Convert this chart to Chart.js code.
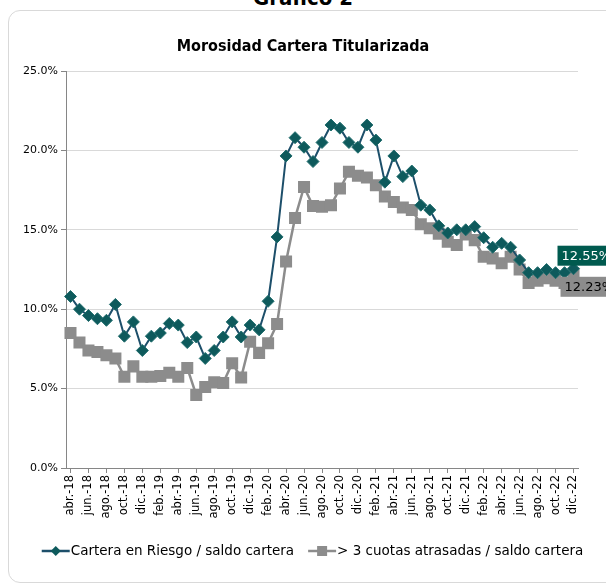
<!DOCTYPE html>
<html>
<head>
<meta charset="utf-8">
<script src="https://cdn.jsdelivr.net/npm/chart.js@4"></script>
<style>
body { margin: 0; background: #fff; overflow: hidden; }
#wrap { position: relative; width: 606px; height: 587px; overflow: hidden; }
#frame { position: absolute; left: 8px; top: 10px; width: 640px; height: 571px; border: 1px solid #d9d9d9; border-radius: 12px; }
#heading { position: absolute; left: 0; top: -15px; width: 606px; text-align: center; font: bold 22px "DejaVu Sans Condensed", "DejaVu Sans"; }
#title { position: absolute; left: 0; top: 36px; width: 606px; text-align: center; font: bold 16px "DejaVu Sans Condensed", "DejaVu Sans"; }
canvas { position: absolute; left: 0; top: 0; }
</style>
</head>
<body>
<div id="wrap">
  <div id="frame"></div>
  <div id="heading">Gráfico 2</div>
  <canvas id="chart" width="606" height="587"></canvas>
  <div id="title">Morosidad Cartera Titularizada</div>
</div>
<script>
const months = [
    "abr.-18", "may.-18", "jun.-18", "jul.-18", "ago.-18", "sep.-18", "oct.-18", "nov.-18", "dic.-18",
    "ene.-19", "feb.-19", "mar.-19", "abr.-19", "may.-19", "jun.-19", "jul.-19", "ago.-19", "sep.-19", "oct.-19", "nov.-19", "dic.-19",
    "ene.-20", "feb.-20", "mar.-20", "abr.-20", "may.-20", "jun.-20", "jul.-20", "ago.-20", "sep.-20", "oct.-20", "nov.-20", "dic.-20",
    "ene.-21", "feb.-21", "mar.-21", "abr.-21", "may.-21", "jun.-21", "jul.-21", "ago.-21", "sep.-21", "oct.-21", "nov.-21", "dic.-21",
    "ene.-22", "feb.-22", "mar.-22", "abr.-22", "may.-22", "jun.-22", "jul.-22", "ago.-22", "sep.-22", "oct.-22", "nov.-22", "dic.-22"
]

const carteraRiesgo = [
    10.8, 10.0, 9.6, 9.4, 9.3, 10.3, 8.3, 9.2, 7.4, 8.3,
    8.5, 9.1, 9.0, 7.9, 8.25, 6.9, 7.4, 8.25, 9.2, 8.25,
    9.0, 8.7, 10.5, 14.55, 19.65, 20.8, 20.2, 19.3, 20.5, 21.6,
    21.4, 20.5, 20.2, 21.6, 20.65, 18.0, 19.65, 18.35, 18.7, 16.55,
    16.25, 15.25, 14.8, 15.0, 15.0, 15.2, 14.5, 13.9, 14.15, 13.9,
    13.1, 12.3, 12.3, 12.5, 12.3, 12.3, 12.55
]

const cuotasAtrasadas = [
    8.5, 7.9, 7.4, 7.3, 7.1, 6.9, 5.75, 6.4, 5.75, 5.75,
    5.8, 6.0, 5.75, 6.3, 4.6, 5.1, 5.4, 5.35, 6.6, 5.7,
    7.95, 7.25, 7.85, 9.07, 13.0, 15.75, 17.7, 16.5, 16.45, 16.55,
    17.6, 18.65, 18.4, 18.3, 17.8, 17.1, 16.75, 16.4, 16.25, 15.35,
    15.1, 14.75, 14.25, 14.05, 14.7, 14.35, 13.3, 13.2, 12.9, 13.3,
    12.5, 11.65, 11.8, 11.95, 11.8, 11.65, 12.23
]

const seriesNames = ["Cartera en Riesgo / saldo cartera", "> 3 cuotas atrasadas / saldo cartera"]
const lastLabels = ["12.55%", "12.23%"]

const FONT = "DejaVu Sans"
const tealLine = "#1d4f6a"
const tealPoint = "#0e5a5c"
const grey = "#8c8c8c"

function drawMarker(g, style, x, y, r, color) {
    g.fillStyle = color
    g.beginPath()
    if (style === "diamond") {
        g.moveTo(x, y - r)
        g.lineTo(x + r, y)
        g.lineTo(x, y + r)
        g.lineTo(x - r, y)
    } else {
        g.rect(x - r, y - r, r * 2, r * 2)
    }
    g.closePath()
    g.fill()
}

// legend drawn by hand: line + marker, text right after it, centred under the frame
const lineLegend = {
    id: "lineLegend",
    afterDraw(chart) {
        const g = chart.ctx
        const items = [
            { text: seriesNames[0], line: tealLine, style: "diamond", color: tealPoint },
            { text: seriesNames[1], line: grey, style: "square", color: grey }
        ]
        const iconW = 28
        const gap = 15
        const y = 551
        g.save()
        g.font = "13.5px " + FONT
        g.textBaseline = "middle"
        const widths = items.map(it => g.measureText(it.text).width)
        const total = widths.reduce((a, w) => a + w + iconW, 0) + gap
        let x = 312 - total / 2
        items.forEach((it, i) => {
            g.strokeStyle = it.line
            g.lineWidth = 2.5
            g.beginPath()
            g.moveTo(x, y)
            g.lineTo(x + iconW, y)
            g.stroke()
            drawMarker(g, it.style, x + iconW / 2, y, 5, it.color)
            g.fillStyle = "#000"
            g.fillText(it.text, x + iconW + 1, y + 0.5)
            x += iconW + widths[i] + gap
        })
        g.restore()
    }
}

const endLabels = {
    id: "endLabels",
    afterDatasetsDraw(chart) {
        const ctx = chart.ctx
        const last = months.length - 1
        const styles = [
            { bg: "#005a4f", fg: "#ffffff", dx: -16, dy: -23 },
            { bg: grey, fg: "#000000", dx: -13, dy: 3 }
        ]
        ctx.save()
        ctx.font = "13px " + FONT
        ctx.textBaseline = "middle"
        styles.forEach((s, i) => {
            const p = chart.getDatasetMeta(i).data[last]
            const left = p.x + s.dx
            const top = p.y + s.dy
            ctx.fillStyle = s.bg
            ctx.fillRect(left, top, 60, 20)
            ctx.fillStyle = s.fg
            ctx.fillText(lastLabels[i], left + 4, top + 10.5)
        })
        ctx.restore()
    }
}

const ctx = document.getElementById("chart").getContext("2d")

new Chart(ctx, {
    type: "line",
    data: {
        labels: months,
        datasets: [
            {
                label: seriesNames[0],
                data: carteraRiesgo,
                borderColor: tealLine,
                borderWidth: 2,
                pointStyle: "rectRot",
                pointRadius: 6,
                pointBackgroundColor: tealPoint,
                pointBorderColor: "#226e6e",
                pointBorderWidth: 1,
                tension: 0
            },
            {
                label: seriesNames[1],
                data: cuotasAtrasadas,
                borderColor: grey,
                borderWidth: 2.5,
                pointStyle: "rect",
                pointRadius: 8.5,
                pointBackgroundColor: grey,
                pointBorderColor: grey,
                pointBorderWidth: 0,
                tension: 0
            }
        ]
    },
    options: {
        responsive: false,
        animation: false,
        layout: { padding: { left: 0, right: 28, top: 71, bottom: 55 } },
        scales: {
            x: {
                offset: true,
                afterFit: (scale) => { scale.height = 64 },
                grid: {
                    drawOnChartArea: false,
                    tickLength: 5,
                    tickColor: (c) => (c.index % 2 === 0 ? "#868686" : "rgba(0,0,0,0)")
                },
                border: { color: "#868686" },
                ticks: {
                    autoSkip: false,
                    minRotation: 90,
                    maxRotation: 90,
                    color: "#000",
                    font: { family: FONT, size: 11.5 },
                    padding: 2,
                    callback: (v, i) => (i % 2 === 0 ? months[i] : "")
                }
            },
            y: {
                min: 0,
                max: 25,
                afterFit: (scale) => { scale.width = 66 },
                grid: {
                    color: "#d9d9d9",
                    tickColor: "#868686",
                    tickLength: 5
                },
                border: { color: "#868686" },
                ticks: {
                    stepSize: 5,
                    color: "#000",
                    font: { family: FONT, size: 11 },
                    padding: 3,
                    callback: (v) => v.toFixed(1) + "%"
                }
            }
        },
        plugins: {
            title: { display: false },
            legend: { display: false },
            tooltip: { enabled: false }
        }
    },
    plugins: [endLabels, lineLegend]
})
</script>
</body>
</html>
